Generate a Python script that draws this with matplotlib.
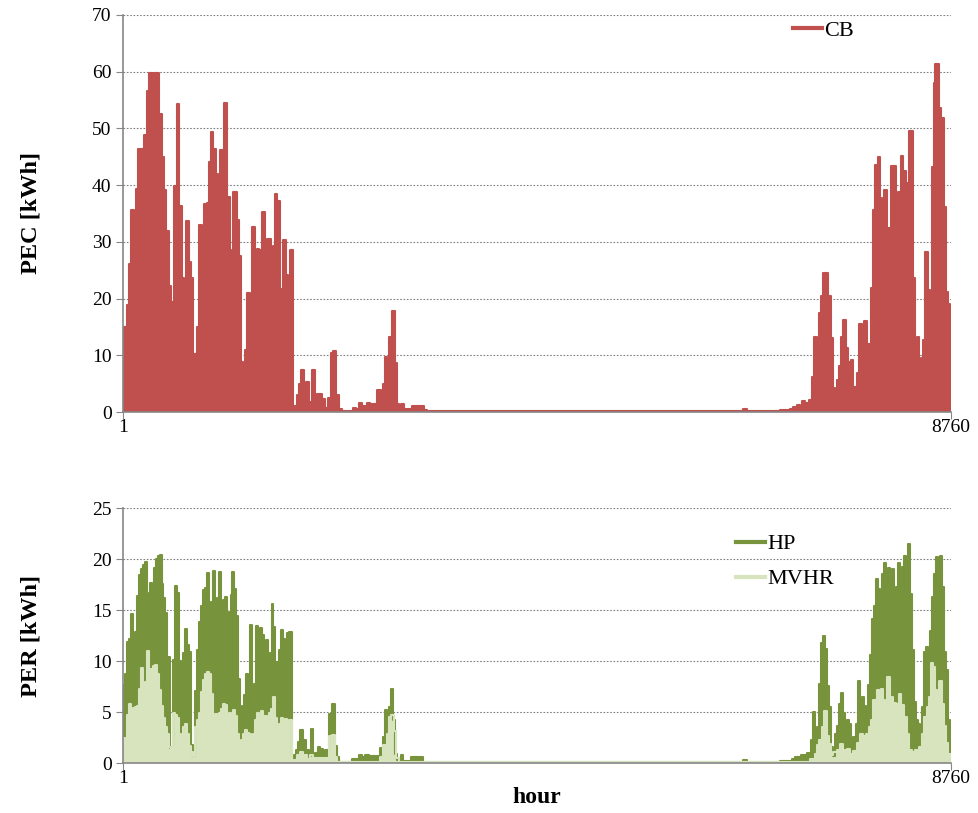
import matplotlib
matplotlib.use('Agg')
import matplotlib.pyplot as plt
import numpy as np

plt.rcParams['font.family'] = ['Liberation Serif', 'DejaVu Serif']

# Values: hour where a level starts, and that level (kWh)
cb_hours = [1, 18, 42, 67, 88, 120, 141, 166, 183, 229, 261, 282, 317, 332, 388, 413, 437,
            459, 487, 508, 522, 547, 571, 600, 624, 649, 670, 698, 723, 748, 772, 790, 811,
            839, 861, 889, 910, 931, 959, 988, 1012, 1030, 1058, 1076, 1108, 1136, 1157, 1171,
            1206, 1227, 1249, 1270, 1294, 1319, 1347, 1368, 1397, 1418, 1439, 1474, 1510, 1531,
            1566, 1587, 1608, 1637, 1665, 1686, 1700, 1728, 1749, 1771,
            1803, 1840, 1869, 1890, 1918, 1939, 1967, 1988, 2006, 2038, 2059, 2080, 2108, 2137,
            2175, 2200, 2228, 2257, 2285, 2317, 2440, 2468, 2503, 2532, 2588, 2616, 2694, 2729,
            2757, 2778, 2800, 2821, 2849, 2884, 2906, 2927, 2948, 2976, 3061, 3188, 3216,
            6560, 6610, 6800,
            6954, 7060, 7095, 7137, 7166, 7187, 7215, 7264, 7289, 7317, 7342, 7363, 7384, 7413,
            7465, 7490, 7511, 7536, 7554, 7578, 7603, 7624, 7652, 7677, 7702, 7730, 7772, 7793,
            7822, 7843, 7871, 7913, 7942, 7963, 7991, 8012, 8033, 8054, 8090, 8125, 8181, 8203,
            8231, 8259, 8287, 8301, 8322, 8358, 8379, 8400, 8421, 8442, 8463, 8492, 8520, 8541,
            8562, 8583, 8598, 8640, 8661, 8689, 8710, 8732, 8753]
cb_values = [7.4, 15.1, 18.8, 26.1, 35.6, 29.5, 39.4, 46.3, 46.4, 48.9, 56.5, 59.8, 48.8, 59.8,
             52.6, 45, 39.1, 31.9, 22.2, 17.2, 19.5, 39.8, 54.2, 36.4, 23.6, 17.6, 33.6, 26.4,
             23.6, 10.3, 7, 15, 32.9, 32.2, 36.6, 36.9, 44.1, 49.4, 46.4, 42, 39.7, 46.2, 43.5,
             54.5, 37.9, 22.9, 28.6, 38.8, 33.9, 27.5, 8.9, 8.1, 11, 21, 18.2, 32.6, 15, 28.8,
             28.5, 35.3, 29.5, 30.5, 25.2, 29.2, 38.5, 37.2, 21.7, 18.5, 30.4, 24.2, 23.1, 28.6,
             1.1, 3, 4.9, 7.5, 3.3, 5.4, 1.8, 0.8, 7.5, 2.1, 3.3, 3.3, 2.4, 0.8, 2.6, 10.5, 10.8,
             3, 0.6, 0.2, 0.8, 0.5, 1.6, 1.1, 1.6, 1.4, 3.9, 2, 4.9, 9.8, 9.3, 13.2, 17.9, 8.7,
             1.5, 0.6, 1.4, 0.5, 1.1, 0.35, 0.2,
             0.5, 0.2, 0.3,
             0.4, 0.6, 0.9, 1.3, 0.9, 1.9, 1.7, 2.2, 6.2, 13.2, 6, 17.4, 20.4, 24.6, 20.4, 13,
             4.2, 1.6, 5.7, 8.2, 13.2, 16.2, 11.4, 8.9, 9.2, 4.4, 7, 15.5, 10.1, 16.1, 12, 21.8,
             35.6, 43.5, 44.9, 37.7, 36.7, 39.1, 32.4, 43.4, 34.7, 38.7, 45.1, 42.5, 39, 40.4,
             49.6, 23.6, 11.6, 13.2, 5.4, 9.5, 12.8, 28.3, 21.6, 20.4, 43.2, 57.9, 61.3, 53.5,
             51.9, 36.1, 21.2, 19.1, 3.2]

hp_hours = [1, 7, 28, 49, 71, 85, 106, 127, 148, 169, 190, 212, 233, 254, 275, 289, 310, 332,
            353, 374, 395, 416, 430, 451, 473, 501, 522, 536, 557, 578, 600, 621, 642, 663, 684,
            705, 727, 748, 769, 790, 811, 832, 854, 875, 896, 917, 938, 959, 981, 995, 1016,
            1037, 1058, 1079, 1100, 1122, 1143, 1157, 1178, 1199, 1220, 1242, 1263, 1284, 1305,
            1326, 1347, 1369, 1390, 1411, 1432, 1453, 1474, 1495, 1517, 1538, 1559, 1580, 1594,
            1615, 1637, 1658, 1679, 1700, 1721, 1742, 1764,
            1787, 1812, 1833, 1854, 1882, 1911, 1939, 1967, 1988, 2017, 2038, 2066, 2087, 2115,
            2136, 2186, 2214, 2242, 2263, 2285, 2426, 2496, 2531, 2567, 2602, 2722, 2750, 2771,
            2792, 2814, 2835, 2863, 2884, 2905, 2941, 2969, 3053, 3180,
            6560, 6610,
            6954, 7077, 7113, 7173, 7236, 7278, 7300, 7321, 7349, 7370, 7391, 7413, 7434, 7455,
            7476, 7497, 7518, 7539, 7561, 7582, 7603, 7624, 7645, 7666, 7688, 7709, 7730, 7758,
            7779, 7800, 7822, 7843, 7864, 7885, 7906, 7928, 7949, 7970, 7991, 8012, 8033, 8054,
            8076, 8097, 8118, 8139, 8160, 8181, 8203, 8224, 8245, 8266, 8287, 8308, 8330, 8351,
            8372, 8393, 8414, 8435, 8456, 8478, 8499, 8520, 8541, 8562, 8583, 8605, 8626, 8647,
            8668, 8689, 8710, 8732, 8753]
hp_values = [4.2, 7.7, 8.8, 11.9, 12.2, 14.6, 10.5, 12.9, 16.4, 18.5, 19, 19.4, 19.7, 15.1,
             16.7, 17.7, 17.4, 19.1, 20, 20.3, 20.4, 17.6, 16.2, 14.7, 10.4, 1.5, 1.6, 10.1, 17.4,
             16.7, 10, 3.3, 10.8, 13.2, 11.6, 10.9, 1.8, 0.7, 7.1, 11.1, 13.9, 15.4, 17, 17.2,
             18.7, 15.4, 15.8, 18.9, 15.4, 16.2, 18.8, 12.1, 16, 16.3, 12.1, 14.8, 16.5, 18.8,
             17.1, 14.4, 8.3, 3.9, 5.6, 6.7, 8.8, 4.6, 13.6, 3.4, 7.8, 13.5, 11.8, 13.3, 12.6,
             11.8, 12.1, 10.7, 10.8, 15.6, 13.4, 9.9, 8.8, 11.1, 13.1, 12.2, 11.1, 12.8, 12.9,
             0.6, 0.8, 1.3, 2.1, 3.3, 2.3, 1.3, 0.7, 3.4, 0.8, 1, 1.6, 1.4, 0.6, 1.3, 4.8, 5.8,
             1.7, 0.6, 0.1, 0.4, 0.8, 0.6, 0.8, 0.7, 1.5, 2.6, 5.2, 4.1, 5.5, 7.3, 4.2, 0.9, 0.3,
             0.8, 0.2, 0.6, 0.15,
             0.35, 0.15,
             0.2, 0.4, 0.6, 0.8, 1, 2.3, 5, 2, 3.6, 7.8, 11.8, 12.5, 11.2, 7.6, 5.5, 1.6, 0.7,
             2.9, 3.7, 5.8, 6.9, 4.9, 4.1, 4.2, 3.9, 2.3, 2.6, 3.9, 8.1, 6, 6.5, 5.6, 5.4, 7.7,
             10.6, 14.1, 15.4, 18.1, 17.1, 15.3, 18.6, 19.6, 16, 19.1, 18.9, 19, 15.8, 17.3,
             19.6, 18.3, 19.2, 20.3, 17.8, 21.5, 16.6, 11.1, 6, 4.2, 3.9, 2.4, 5.5, 10.9, 11.4,
             9.8, 13, 16.3, 18.6, 20.2, 19.6, 20.3, 17.3, 10.9, 9.1, 4.2, 1.5]

mvhr_hours = [1, 7, 28, 49, 71, 85, 106, 127, 148, 169, 190, 212, 233, 254, 275, 296, 317, 339,
              360, 381, 402, 423, 444, 466, 487, 508, 529, 550, 571, 593, 614, 635, 656, 677,
              698, 720, 741, 769, 790, 811, 832, 854, 875, 896, 917, 938, 959, 981, 1002, 1023,
              1044, 1065, 1086, 1107, 1129, 1150, 1171, 1192, 1213, 1234, 1256, 1277, 1298,
              1319, 1340, 1361, 1383, 1404, 1425, 1446, 1467, 1488, 1510, 1531, 1552, 1573,
              1594, 1615, 1637, 1658, 1679, 1700, 1721, 1742, 1764,
              1787, 1840, 1875, 1911, 1946, 1981, 2017, 2179, 2214, 2242, 2270, 2722, 2757,
              2792, 2821, 2842, 2870, 2891, 2919,
              6954, 7271, 7321, 7349, 7370, 7398, 7420, 7455, 7476, 7497, 7518, 7554, 7589,
              7624, 7659, 7695, 7730, 7765, 7800, 7836, 7864, 7892, 7913, 7942, 7977, 7998,
              8019, 8047, 8069, 8090, 8118, 8146, 8181, 8210, 8238, 8266, 8294, 8322, 8351,
              8379, 8400, 8428, 8456, 8478, 8506, 8527, 8548, 8576, 8598, 8619, 8640, 8668,
              8689, 8710, 8732]
mvhr_values = [1.3, 2.5, 2.2, 4.7, 5.8, 4.9, 5.4, 5.5, 5.6, 7.3, 9.3, 7.2, 8, 11, 9.2, 9.2, 9.5,
               9.6, 8.8, 7.2, 5.6, 4.4, 3.6, 2.9, 1.6, 0.8, 4.9, 4.7, 4.4, 2.9, 1.7, 3.6, 3.9,
               2.9, 1.7, 1.1, 0.7, 3.6, 4.2, 4.9, 7, 8.2, 8.8, 9, 8.8, 6.8, 4.7, 4.8, 4.7, 4.9,
               5.3, 5.8, 5.7, 2.9, 4.9, 4.4, 5.2, 4.6, 2.9, 1.8, 2.3, 2.9, 3.3, 3, 2.9, 2, 2.9,
               4.2, 4.9, 4.6, 5.1, 4.6, 4.6, 4.1, 4.9, 5.3, 6.5, 4.4, 3.3, 3.9, 4.4, 4.2, 4.3,
               4.1, 4.2,
               0.3, 0.8, 1.1, 0.8, 0.4, 0.8, 0.5, 2.7, 2.8, 0.6, 0.1, 0.6, 1.8, 2.9, 4.5, 4.7,
               3.2, 0.5, 0.1,
               0.1, 0.4, 0.9, 1.8, 2.3, 3.6, 5.1, 2.7, 1.9, 0.8, 1.1, 1.3, 1.9, 1.3, 1.4, 0.9,
               1.2, 2, 2.9, 2.7, 2.9, 3.6, 4.2, 6.2, 7.2, 7.2, 7.3, 6.2, 5.8, 8.5, 6.5, 5.9,
               5.8, 6.8, 5.7, 4.5, 2.9, 1.3, 1.1, 1.3, 0.9, 1.6, 2.9, 4.5, 5.5, 6.5, 9.8, 9.4,
               7.2, 6.2, 8.1, 5.8, 3.7, 2, 0.9]

LAST_HOUR = 8760
CB_COLOR = '#C0504D'
HP_COLOR = '#77933C'
MVHR_COLOR = '#D7E4BD'


def draw_series(ax, hours, values, color, label):
    x = np.append(hours, LAST_HOUR)
    y = np.append(values, values[-1])
    ax.fill_between(x, y, step='post', color=color, lw=0)
    ax.step(x, y, where='post', color=color, lw=1.5, label=label)


def style_axes(ax, ymax, ystep):
    ax.set_xlim(1, LAST_HOUR)
    ax.set_ylim(0, ymax)
    ax.set_yticks(np.arange(0, ymax + 1, ystep))
    ax.set_xticks([1, LAST_HOUR])
    ax.set_xticklabels(['1', '8760'])
    ax.grid(axis='y', color='#808080', linestyle=(0, (1.5, 1.5)), linewidth=0.8)
    ax.set_axisbelow(True)
    for s in ['top', 'right']:
        ax.spines[s].set_visible(False)
    for s in ['left', 'bottom']:
        ax.spines[s].set_color('#868686')
        ax.spines[s].set_linewidth(1.2)
    ax.tick_params(axis='both', direction='out', length=5, color='#868686',
                   labelsize=14, pad=3)
    ax.tick_params(axis='x', pad=0)
    ax.yaxis.set_label_coords(-0.098, 0.5)


fig = plt.figure(figsize=(9.79, 8.13), dpi=100)
ax1 = fig.add_axes([0.1253, 0.4929, 0.8458, 0.489])
ax2 = fig.add_axes([0.1253, 0.0611, 0.8458, 0.3137])

draw_series(ax1, cb_hours, cb_values, CB_COLOR, 'CB')
style_axes(ax1, 70, 10)
ax1.set_ylabel('PEC [kWh]', fontsize=17.5, fontweight='bold')
leg1 = ax1.legend(loc='upper left', bbox_to_anchor=(0.794, 1.02), frameon=False, fontsize=16,
                  handlelength=1.3, handletextpad=0.1, borderaxespad=0.2)

draw_series(ax2, hp_hours, hp_values, HP_COLOR, 'HP')
draw_series(ax2, mvhr_hours, mvhr_values, MVHR_COLOR, 'MVHR')
style_axes(ax2, 25, 5)
ax2.set_ylabel('PER [kWh]', fontsize=17.5, fontweight='bold')
ax2.set_xlabel('hour', fontsize=17, fontweight='bold', labelpad=0)
leg2 = ax2.legend(loc='upper left', bbox_to_anchor=(0.717, 0.978), frameon=False, fontsize=16,
                  handlelength=1.3, handletextpad=0.1, labelspacing=0.65)
for leg in (leg1, leg2):
    for line in leg.get_lines():
        line.set_linewidth(3)

fig.savefig('out.png', dpi=100, facecolor='white')
